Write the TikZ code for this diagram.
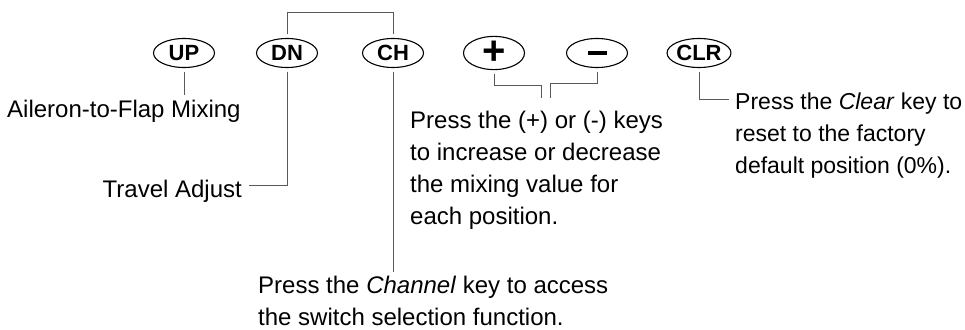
\documentclass[tikz,border=0pt]{standalone}
\usepackage{fontspec}
\setmainfont{Liberation Sans}
\usetikzlibrary{shapes.geometric}
\usetikzlibrary{calc}
\tikzset{
key/.style={
	ellipse,
	minimum width=61pt,
	minimum height=29pt,
	inner sep=0pt,
	outer sep=4pt,
	draw=black,
	line width=1.1pt,
	font=\fontsize{22}{22}\selectfont\bfseries
},
bigkey/.style={
	key,
	font=\fontsize{40}{40}\selectfont\bfseries
},
note/.style={
	inner sep=0pt,
	align=left,
	font=\fontsize{24}{32}\selectfont
},
link/.style={
	draw=black!65,
	line width=0.9pt
}
}

\begin{document}
\begin{tikzpicture}[x=1pt,y=-1pt]
\useasboundingbox (0,0) rectangle (965,329);

% keys along the top
\node (up)    [key]    at (184,53) {UP};
\node (dn)    [key]    at (287,53) {DN};
\node (ch)    [key]    at (393,53) {CH};
\node (plus)  [bigkey] at (494,53) {\raisebox{-2.5pt}{+}};
\node (minus) [key]    at (597,53) {\rule{19pt}{3.6pt}};
\node (clr)   [key]    at (699,53) {CLR};

% notes (base = last line)
\node (mixing) [note, anchor=base west] at (7,117) {Aileron-to-Flap Mixing};
\node (travel) [note, anchor=base east] at (242,197) {Travel Adjust};
\node (channel) [note, anchor=base west] at (258,325) {Press the \textit{Channel} key to access\\
  the switch selection function.};
\node (plusminus) [note, anchor=base west] at (410,224) {Press the (+) or (-) keys\\
  to increase or decrease\\
  the mixing value for\\
  each position.};
\node (clear) [note, anchor=base west, font=\fontsize{23}{32}\selectfont] at (735,173) {Press the \textit{Clear} key to\\
  reset to the factory\\
  default position (0\%).};

% DN and CH share the bracket on top
\draw[link] (dn.north) -- ++(0,-22) -| (ch.north);

% keys -> notes
\draw[link, shorten >=4pt] (up.south) -- (up.south |- mixing.north);
\draw[link] (dn.south) |- ([xshift=7pt,yshift=12pt]travel.base east);
\draw[link, shorten >=3pt] (ch.south) -- (ch.south |- channel.north);

\coordinate (pmleft)  at (541,98);
\coordinate (pmright) at (550,98);
\draw[link] (plus.south)  -- ++(0,12) -| (pmleft);
\draw[link] (minus.south) -- ++(0,12) -| (pmright);

\draw[link] (clr.south) |- ([xshift=-6pt,yshift=-7pt]clear.north west);

\end{tikzpicture}
\end{document}
